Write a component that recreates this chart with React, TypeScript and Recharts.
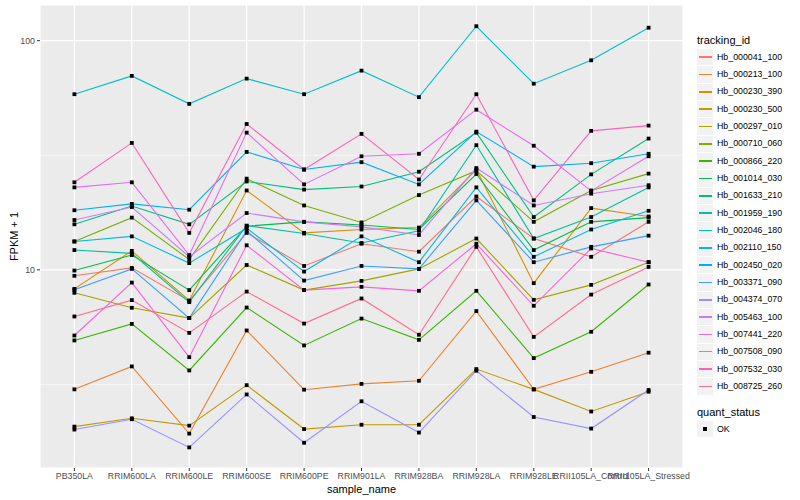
import React from "react";
import { LineChart, Line, XAxis, YAxis, CartesianGrid, ReferenceLine, Label } from "recharts";

const categories = ["PB350LA", "RRIM600LA", "RRIM600LE", "RRIM600SE", "RRIM600PE", "RRIM901LA", "RRIM928BA", "RRIM928LA", "RRIM928LE", "RRII105LA_Control", "RRII105LA_Stressed"];

const seriesNames = ["Hb_000041_100", "Hb_000213_100", "Hb_000230_390", "Hb_000230_500", "Hb_000297_010", "Hb_000710_060", "Hb_000866_220", "Hb_001014_030", "Hb_001633_210", "Hb_001959_190", "Hb_002046_180", "Hb_002110_150", "Hb_002450_020", "Hb_003371_090", "Hb_004374_070", "Hb_005463_100", "Hb_007441_220", "Hb_007508_090", "Hb_007532_030", "Hb_008725_260"];

const seriesColors = ["#F8766D", "#EA8331", "#D89000", "#C09B00", "#A3A500", "#7CAE00", "#39B600", "#00BB4E", "#00BF7D", "#00C1A3", "#00BFC4", "#00BAE0", "#00B0F6", "#35A2FF", "#9590FF", "#C77CFF", "#E76BF3", "#FA62DB", "#FF62BC", "#FF6C91"];

const hb000041_100 = [9.42, 10.2, 7.32, 14.5, 10.4, 13.0, 12.0, 20.9, 13.7, 11.4, 16.2];
const hb000213_100 = [3.01, 3.79, 1.93, 5.44, 3.0, 3.18, 3.28, 6.61, 3.01, 3.59, 4.35];
const hb000230_390 = [8.26, 12.1, 7.35, 22.2, 14.5, 15.0, 15.3, 27.4, 8.75, 18.6, 17.1];
const hb000230_500 = [2.07, 2.25, 2.09, 3.14, 2.02, 2.11, 2.11, 3.69, 3.01, 2.41, 2.94];
const hb000297_010 = [7.94, 6.83, 6.16, 10.5, 8.16, 8.95, 10.1, 13.7, 7.4, 8.6, 10.8];
const hb000710_060 = [13.3, 16.9, 11.1, 25.0, 19.1, 16.1, 21.2, 27.1, 16.2, 22.2, 26.3];
const hb000866_220 = [4.92, 5.81, 3.64, 6.85, 4.68, 6.13, 4.95, 8.1, 4.12, 5.37, 8.63];
const hb001014_030 = [9.93, 11.6, 8.16, 15.5, 16.2, 15.7, 15.0, 26.2, 12.2, 16.2, 16.9];
const hb001633_210 = [15.8, 19.0, 15.8, 24.3, 22.4, 23.1, 26.8, 39.7, 17.0, 26.1, 37.4];
const hb001959_190 = [12.2, 11.8, 7.23, 15.6, 14.4, 13.1, 14.8, 35.0, 13.7, 17.0, 22.9];
const hb002046_180 = [58.4, 70.2, 53.0, 68.3, 58.4, 74.0, 56.7, 115.6, 64.9, 82.1, 113.9];
const hb002110_150 = [13.3, 14.0, 10.7, 15.2, 9.83, 14.0, 10.8, 22.9, 11.4, 15.0, 18.1];
const hb002450_020 = [18.2, 19.4, 18.3, 32.7, 27.4, 29.5, 23.6, 40.1, 28.2, 29.2, 32.1];
const hb003371_090 = [8.18, 10.1, 6.16, 14.8, 8.98, 10.4, 10.1, 20.1, 10.8, 12.6, 14.1];
const hb004374_070 = [2.01, 2.23, 1.68, 2.86, 1.76, 2.67, 1.95, 3.63, 2.28, 2.03, 2.99];
const hb005463_100 = [16.5, 18.8, 11.4, 17.7, 16.2, 15.4, 14.2, 27.8, 19.1, 21.5, 23.4];
const hb007441_220 = [22.9, 24.1, 11.6, 39.7, 23.6, 31.3, 32.1, 50.0, 34.8, 22.1, 31.3];
const hb007508_090 = [5.17, 8.8, 4.16, 12.8, 8.16, 8.43, 8.1, 13.0, 6.97, 12.4, 10.8];
const hb007532_030 = [24.1, 35.8, 14.5, 43.3, 27.4, 39.2, 24.8, 58.4, 20.1, 40.4, 42.6];
const hb008725_260 = [6.26, 7.38, 5.31, 8.04, 5.83, 7.5, 5.21, 12.6, 5.1, 7.8, 10.3];

const seriesValues = [hb000041_100, hb000213_100, hb000230_390, hb000230_500, hb000297_010, hb000710_060, hb000866_220, hb001014_030, hb001633_210, hb001959_190, hb002046_180, hb002110_150, hb002450_020, hb003371_090, hb004374_070, hb005463_100, hb007441_220, hb007508_090, hb007532_030, hb008725_260];

const yTicks = [10, 100];
const yMinorBreaks = [3.1623, 31.623];
const yDomain = [1.366, 143.1];

const data = categories.map((c, i) => {
  const row: any = { sample: c };
  seriesValues.forEach((vals, j) => {
    row["s" + j] = vals[i];
  });
  return row;
});

const FONT = "'Liberation Sans', Arial, Helvetica, sans-serif";

const SquareDot = (props: any) => {
  const { cx, cy, index } = props;
  if (cx == null || cy == null) return <g key={index} />;
  return <rect key={index} x={cx - 1.9} y={cy - 1.9} width={3.8} height={3.8} fill="#000" />;
};

export default function App() {
  return (
    <div style={{ position: "absolute", left: 0, top: 0, width: 800, height: 500, background: "#fff", fontFamily: FONT }}>
      <LineChart width={800} height={500} data={data} margin={{ top: 5, right: 117, bottom: 0, left: 0 }}>
        <CartesianGrid fill="#EBEBEB" stroke="#FFFFFF" strokeWidth={1.2} />
        {yMinorBreaks.map((v) => (
          <ReferenceLine key={v} y={v} stroke="#FFFFFF" strokeWidth={0.6} ifOverflow="hidden" />
        ))}
        <XAxis
          dataKey="sample"
          interval={0}
          padding={{ left: 34.4, right: 34.4 }}
          height={32}
          tickSize={3}
          tickMargin={2}
          axisLine={false}
          tickLine={{ stroke: "#333333" }}
          tick={{ fontSize: 8.8, fill: "#4D4D4D", fontFamily: FONT }}
        >
          <Label
            content={(p: any) => {
              const vb = p.viewBox || {};
              return (
                <text x={vb.x + vb.width / 2} y={493} textAnchor="middle" fontSize={11} fill="#000" fontFamily={FONT}>
                  sample_name
                </text>
              );
            }}
          />
        </XAxis>
        <YAxis
          type="number"
          scale="log"
          domain={yDomain}
          allowDataOverflow
          ticks={yTicks}
          width={40}
          tickSize={3}
          tickMargin={2}
          axisLine={false}
          tickLine={{ stroke: "#333333" }}
          tick={{ fontSize: 8.8, fill: "#4D4D4D", fontFamily: FONT }}
        >
          <Label
            content={(p: any) => {
              const vb = p.viewBox || {};
              const cx = 14;
              const cy = vb.y + vb.height / 2;
              return (
                <text x={cx} y={cy} transform={`rotate(-90, ${cx}, ${cy})`} textAnchor="middle" dominantBaseline="central" fontSize={11} fill="#000" fontFamily={FONT}>
                  FPKM + 1
                </text>
              );
            }}
          />
        </YAxis>
        {seriesNames.map((n, j) => (
          <Line
            key={n}
            type="linear"
            dataKey={"s" + j}
            name={n}
            stroke={seriesColors[j]}
            strokeWidth={1.1}
            dot={false}
            activeDot={false}
            isAnimationActive={false}
          />
        ))}
        {seriesNames.map((n, j) => (
          <Line
            key={n + "_pts"}
            type="linear"
            dataKey={"s" + j}
            name={n + " points"}
            stroke="none"
            strokeWidth={0}
            dot={<SquareDot />}
            activeDot={false}
            legendType="none"
            isAnimationActive={false}
          />
        ))}
      </LineChart>
      <div style={{ position: "absolute", left: 697, top: 33, fontFamily: FONT, color: "#000" }}>
        <div style={{ fontSize: 11, height: 15, lineHeight: "15px" }}>tracking_id</div>
        {seriesNames.map((n, j) => (
          <div key={n} style={{ display: "flex", alignItems: "center", height: 17.33 }}>
            <div style={{ width: 16, height: 16.3, background: "#F2F2F2", position: "relative", marginTop: 1 }}>
              <div style={{ position: "absolute", left: 1.5, right: 1.5, top: 7.4, height: 1.5, background: seriesColors[j] }} />
            </div>
            <span style={{ fontSize: 8.8, marginLeft: 4, whiteSpace: "nowrap" }}>{n}</span>
          </div>
        ))}
      </div>
      <div style={{ position: "absolute", left: 697, top: 404, fontFamily: FONT, color: "#000" }}>
        <div style={{ fontSize: 11, height: 16, lineHeight: "16px" }}>quant_status</div>
        <div style={{ display: "flex", alignItems: "center", height: 17.33 }}>
          <div style={{ width: 16, height: 16.3, background: "#F2F2F2", position: "relative" }}>
            <div style={{ position: "absolute", left: 6.2, top: 6.2, width: 3.8, height: 3.8, background: "#000" }} />
          </div>
          <span style={{ fontSize: 8.8, marginLeft: 4 }}>OK</span>
        </div>
      </div>
    </div>
  );
}
